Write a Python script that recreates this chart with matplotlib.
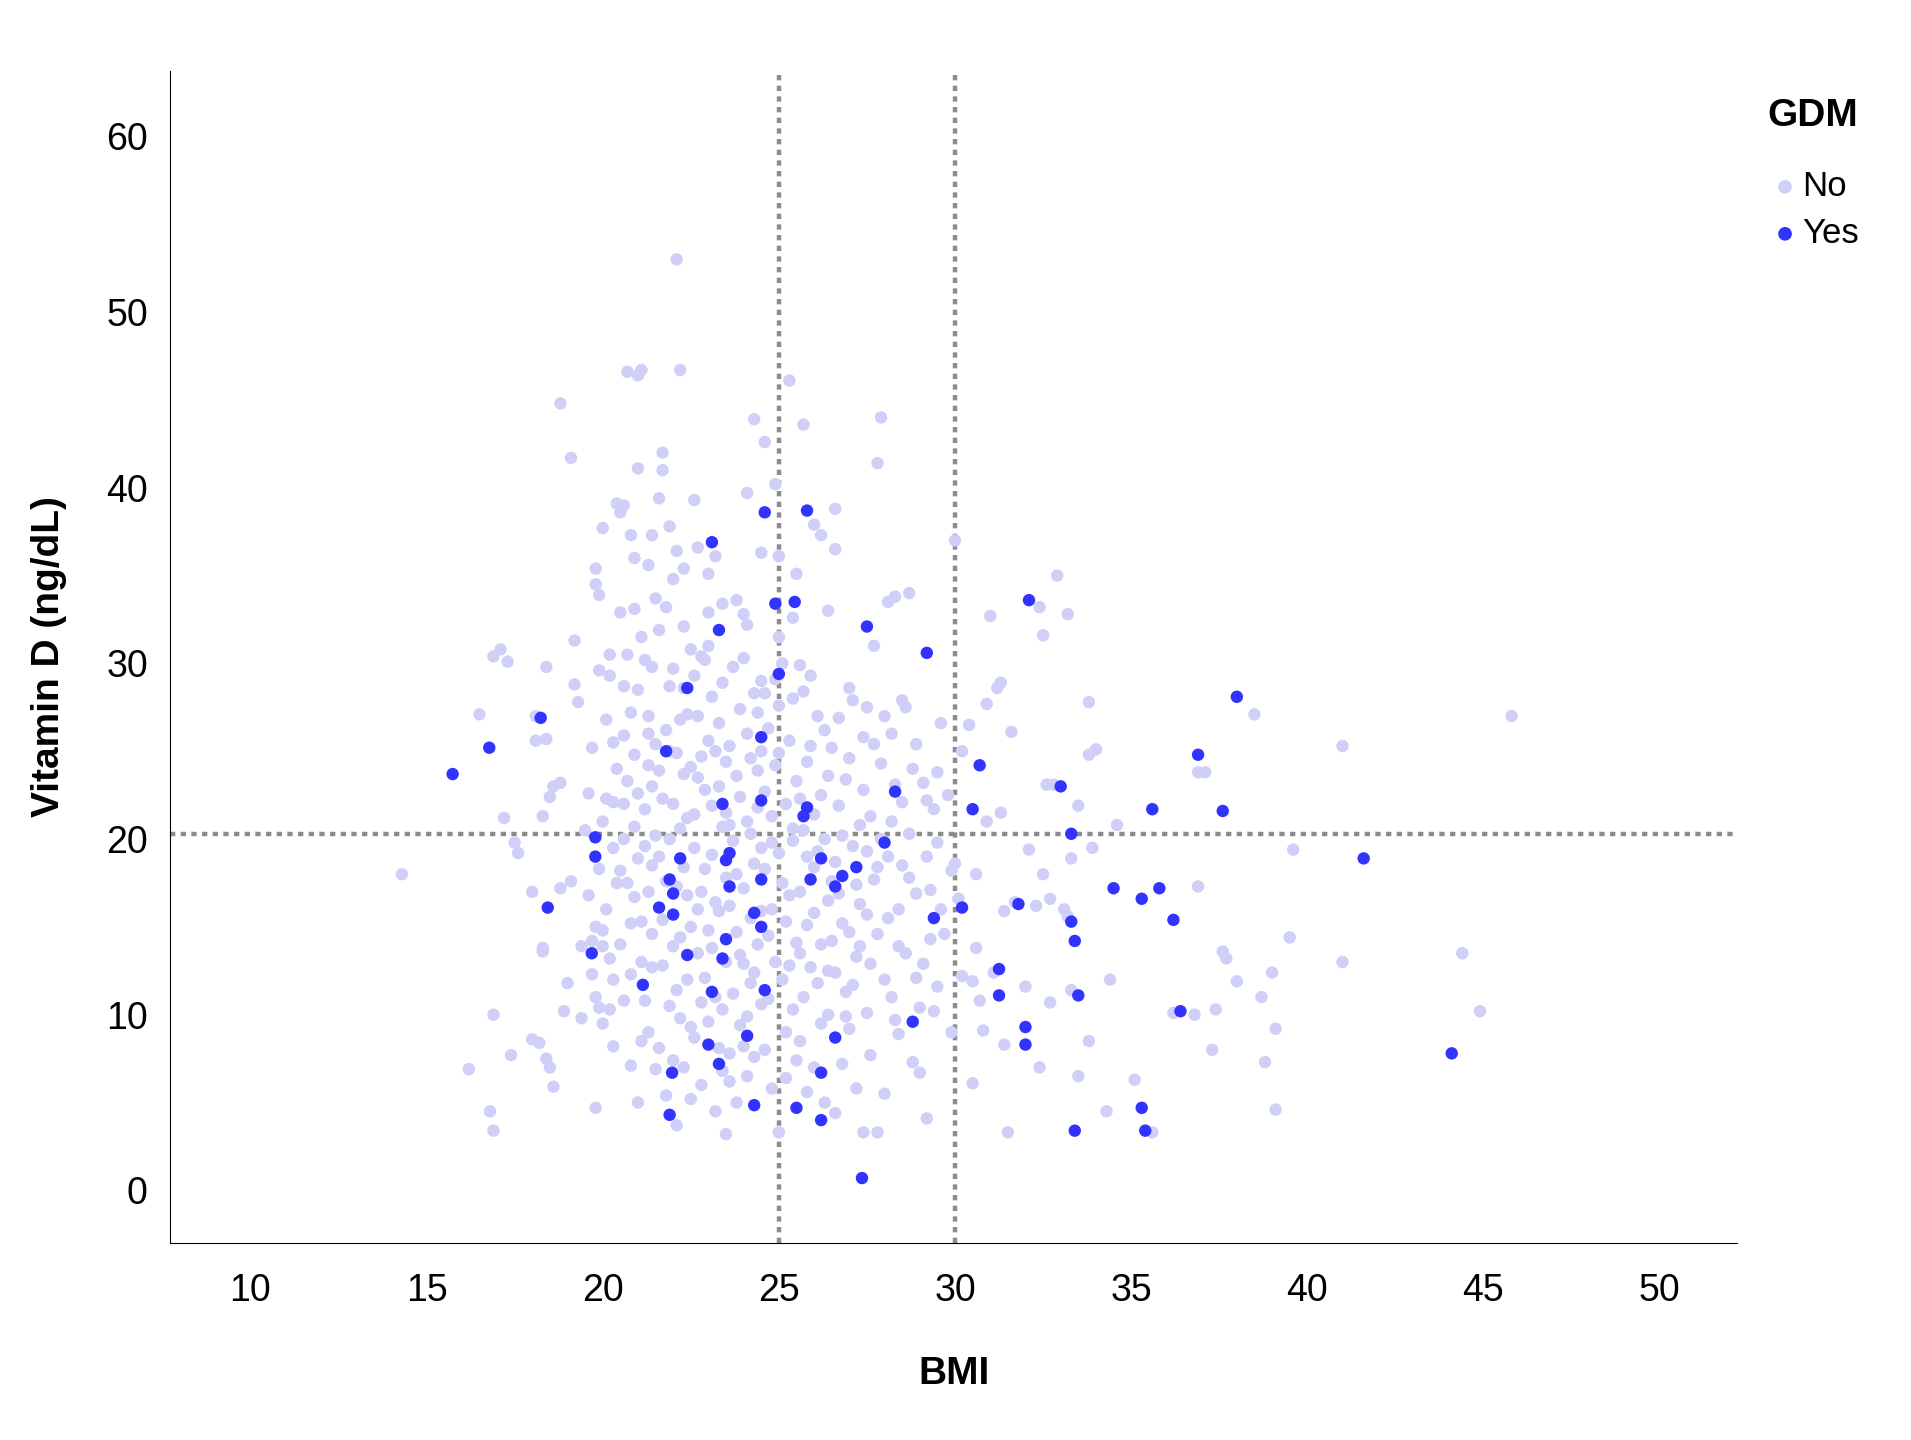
import matplotlib
matplotlib.use("Agg")
import matplotlib.pyplot as plt

yes_points = [(15.74,23.7),(16.78,25.2),(18.24,26.9),(18.44,16.1),(19.79,20.1),(19.79,19.0),(19.69,13.5),
(21.14,11.7),(21.8,25.0),(21.6,16.1),(21.9,17.7),(22.0,16.9),(22.0,15.7),(22.2,18.9),(21.97,6.7),(21.9,4.3),
(22.4,28.6),(22.4,13.4),(23.1,36.9),(23.3,31.9),(23.4,22.0),(23.5,14.3),(23.4,13.2),(23.6,19.2),(23.5,18.8),
(23.6,17.3),(23.1,11.3),(23.0,8.3),(23.3,7.2),(24.1,8.8),(24.3,4.85),(24.3,15.8),(24.5,15.0),(24.5,22.2),
(24.5,17.7),(24.5,25.8),(24.6,38.6),(24.6,11.4),(24.9,33.4),(25.0,29.4),(25.45,33.5),(25.7,21.3),(25.8,21.8),
(25.8,38.7),(25.9,17.7),(25.5,4.7),(26.2,18.9),(26.2,6.7),(26.2,4.0),(26.6,17.3),(26.8,17.9),(26.6,8.7),
(27.2,18.4),(27.5,32.1),(27.36,0.7),(28.0,19.8),(28.3,22.7),(28.8,9.6),(29.2,30.6),(29.4,15.5),(30.2,16.1),
(30.7,24.2),(30.5,21.7),(31.25,12.6),(31.25,11.1),(31.8,16.3),(32.1,33.6),(32.0,9.3),(32.0,8.3),(33.0,23.0),
(33.3,20.3),(33.3,15.3),(33.4,14.2),(33.5,11.1),(33.4,3.4),(34.5,17.2),(35.6,21.7),(35.3,16.6),(35.8,17.2),
(35.3,4.7),(35.4,3.4),(36.2,15.4),(36.4,10.2),(36.9,24.8),(37.6,21.6),(38.0,28.1),(41.6,18.9),(44.1,7.8)]

no_points = [(14.3,18.0),(16.2,6.9),(16.5,27.1),(16.8,4.5),(16.9,3.4),(16.9,10.0),(16.9,30.4),(17.1,30.8),(17.3,30.1),
(17.2,21.2),(17.4,7.7),(17.5,19.8),(17.6,19.2),(18.0,17.0),(18.0,8.6),(18.1,25.6),(18.1,27.0),(18.2,8.4),(18.3,13.6),
(18.3,13.8),(18.4,29.8),(18.4,7.5),(18.5,7.0),(18.5,22.4),(18.3,21.3),(18.6,5.9),(18.4,25.7),(18.6,23.0),(18.8,23.2),
(18.8,44.8),(18.8,17.2),(18.9,10.2),(19.0,11.8),(19.1,41.7),(19.1,17.6),(19.2,31.3),(19.2,28.8),(19.3,27.8),(19.4,9.8),
(19.4,13.9),(19.5,20.5),(19.6,22.6),(19.7,12.3),(19.8,35.4),(19.8,34.5),(19.9,33.9),(19.8,4.7),(19.9,10.4),(20.0,14.8),
(20.0,37.7),(20.1,22.3),(20.2,30.5),(20.3,8.2),(20.3,25.5),(20.4,39.1),(20.5,38.6),(20.6,39.0),(20.5,32.9),(20.6,28.7),
(20.7,46.6),(20.8,37.3),(20.9,36.0),(21.0,46.4),(21.0,41.1),(21.1,46.7),(21.2,30.2),(21.3,35.6),(21.3,26.0),(21.4,37.3),
(21.5,33.7),(21.6,39.4),(21.7,42.0),(21.7,41.0),(21.9,37.8),(22.0,34.8),(22.1,53.0),(22.2,46.7),(22.1,36.4),(22.3,32.1),
(22.3,35.4),(22.6,39.3),(22.7,36.6),(22.8,30.4),(23.0,35.1),(23.0,32.9),(23.2,36.1),(23.4,33.4),(23.5,3.2),(23.6,6.2),
(23.8,33.6),(24.0,32.8),(24.1,32.2),(24.1,39.7),(24.3,43.9),(24.6,42.6),(24.5,36.3),(24.9,40.2),(25.0,36.1),(25.0,31.5),
(25.3,46.1),(25.4,32.6),(25.5,35.1),(25.6,29.9),(25.7,43.6),(26.0,37.9),(26.2,37.3),(26.4,33.0),(26.6,38.8),(26.6,36.5),
(27.0,28.6),(27.5,27.5),(27.7,31.0),(27.8,41.4),(27.9,44.0),(28.1,33.5),(28.3,33.8),(28.5,27.9),(28.7,34.0),(28.9,25.4),
(29.2,22.2),(29.5,23.8),(29.6,16.0),(30.0,37.0),(30.0,18.6),(30.1,16.6),(30.2,25.0),(30.4,26.5),(30.2,12.2),(30.5,11.9),
(30.6,18.0),(30.6,13.8),(30.7,10.8),(30.5,6.1),(30.8,9.1),(30.9,21.0),(30.9,27.7),(31.0,32.7),(31.1,12.4),(31.2,28.6),
(31.3,28.9),(31.3,21.5),(31.4,15.9),(31.4,8.3),(31.5,3.3),(31.6,26.1),(31.7,16.4),(32.0,11.6),(32.1,19.4),(32.3,16.2),
(32.4,33.2),(32.4,7.0),(32.5,31.6),(32.5,18.0),(32.6,23.1),(32.7,10.7),(32.7,16.6),(32.8,23.1),(32.9,35.0),(33.1,16.0),
(33.2,15.6),(33.2,32.8),(33.3,18.9),(33.3,11.4),(33.5,6.5),(33.5,21.9),(33.8,27.8),(33.8,24.8),(33.9,19.5),(33.8,8.5),
(34.0,25.1),(34.3,4.5),(34.4,12.0),(34.6,20.8),(35.1,6.3),(35.6,3.3),(36.2,10.1),(36.8,10.0),(36.9,23.8),(36.9,17.3),
(37.1,23.8),(37.3,8.0),(37.4,10.3),(37.6,13.6),(37.7,13.2),(38.0,11.9),(38.5,27.1),(38.7,11.0),(38.8,7.3),(39.0,12.4),
(39.1,9.2),(39.1,4.6),(39.5,14.4),(39.6,19.4),(41.0,13.0),(41.0,25.3),(44.4,13.5),(44.9,10.2),(45.8,27.0),
(19.6,16.8),(19.7,14.2),(19.8,11.0),(19.9,18.3),(20.0,21.0),(20.1,16.0),(20.2,13.2),(20.3,19.5),(20.4,24.0),(20.1,26.8),
(20.2,29.3),(19.9,29.6),(20.0,9.5),(20.3,12.0),(20.4,17.5),(19.7,25.2),(20.3,22.1),(20.0,13.9),(20.2,10.3),(19.8,15.0),
(20.5,14.0),(20.6,20.0),(20.7,23.3),(20.8,27.2),(20.9,24.8),(21.0,18.9),(21.1,15.3),(21.2,21.7),(21.3,9.0),(21.4,12.7),
(20.6,10.8),(20.8,7.1),(21.0,5.0),(21.2,19.6),(21.4,23.0),(20.7,30.5),(21.0,28.5),(21.3,27.0),(21.5,25.4),(20.9,16.7),
(21.1,13.0),(21.3,17.0),(20.5,18.2),(20.6,25.9),(21.4,29.8),(20.8,12.3),(21.2,10.8),(21.0,22.6),(20.9,20.7),(21.5,20.2),
(20.7,17.5),(21.1,8.5),(21.4,14.6),(20.6,22.0),(21.3,24.2),(21.1,31.5),(20.9,33.1),(21.5,6.9),(21.4,18.5),(20.8,15.2),
(21.6,19.0),(21.7,22.3),(21.8,26.2),(21.9,10.5),(22.0,13.9),(22.1,17.3),(22.2,20.6),(22.3,23.7),(22.4,27.1),(22.5,30.8),
(21.6,8.1),(21.8,5.4),(22.0,7.4),(22.2,9.8),(22.4,12.0),(21.7,15.4),(21.9,28.7),(22.1,24.9),(22.3,18.4),(22.5,15.0),
(21.6,31.9),(21.8,33.2),(22.0,22.0),(22.2,26.8),(22.4,21.2),(21.7,12.8),(21.9,20.0),(22.1,11.4),(22.3,7.0),(22.5,9.3),
(21.6,23.9),(22.0,29.7),(22.4,16.8),(21.8,17.6),(22.2,14.4),(22.5,24.1),(21.9,25.0),(22.3,28.6),(22.1,3.7),(22.5,5.2),
(22.6,19.5),(22.7,13.5),(22.8,17.0),(22.9,22.8),(23.0,25.6),(23.1,28.1),(23.2,11.0),(23.3,15.9),(23.4,20.7),(23.5,24.4),
(22.6,8.7),(22.8,6.0),(23.0,9.6),(23.2,4.5),(23.4,10.3),(22.7,27.0),(22.9,30.2),(23.1,19.1),(23.3,23.0),(23.5,17.8),
(22.6,21.4),(22.8,24.7),(23.0,14.8),(23.2,16.4),(23.4,28.9),(22.7,16.0),(22.9,12.1),(23.1,21.9),(23.3,26.6),(23.5,13.0),
(22.6,29.3),(23.0,31.0),(23.4,6.8),(22.9,18.3),(23.2,25.0),(22.8,10.7),(23.5,21.5),(23.3,8.1),(22.7,23.5),(23.1,13.8),
(23.6,16.2),(23.7,19.9),(23.8,23.6),(23.9,27.4),(24.0,12.9),(24.1,9.9),(24.2,15.5),(24.3,18.6),(24.4,21.8),(24.5,25.0),
(23.6,7.8),(23.8,5.0),(24.0,8.2),(24.2,11.8),(24.4,14.0),(23.7,29.8),(23.9,22.4),(24.1,26.0),(24.3,28.3),(24.5,19.5),
(23.6,25.3),(23.8,14.7),(24.0,17.2),(24.2,20.3),(24.4,23.9),(23.7,11.2),(23.9,9.4),(24.1,6.5),(24.3,7.6),(24.5,10.6),
(23.6,20.8),(24.0,30.3),(24.4,27.2),(23.8,18.0),(24.2,24.6),(24.5,15.9),(23.9,13.4),(24.1,21.0),(24.3,12.4),(24.5,29.0),
(24.6,18.3),(24.7,14.5),(24.8,21.3),(24.9,24.2),(25.0,27.6),(25.1,12.0),(25.2,9.0),(25.3,16.8),(25.4,19.9),(25.5,23.3),
(24.6,8.0),(24.8,5.8),(25.0,3.3),(25.2,6.4),(25.4,10.3),(24.7,26.3),(24.9,29.1),(25.1,30.0),(25.3,25.6),(25.5,14.1),
(24.6,22.7),(24.8,16.0),(25.0,19.2),(25.2,22.0),(25.4,28.0),(24.7,10.9),(24.9,13.0),(25.1,17.5),(25.3,12.8),(25.5,7.4),
(24.6,28.3),(25.0,24.9),(25.4,20.6),(24.8,19.8),(25.2,15.3),
(25.6,17.0),(25.7,20.5),(25.8,24.4),(25.9,12.7),(26.0,15.8),(26.1,19.3),(26.2,22.5),(26.3,26.2),(26.4,10.0),(26.5,14.2),
(25.6,8.5),(25.8,5.6),(26.0,7.0),(26.2,9.5),(26.4,12.5),(25.7,28.4),(25.9,25.3),(26.1,27.0),(26.3,20.0),(26.5,17.6),
(25.6,22.3),(25.8,15.1),(26.0,18.4),(26.2,14.0),(26.4,23.6),(25.7,11.0),(25.9,29.3),(26.1,11.8),(26.3,5.0),(26.5,25.2),
(25.6,13.5),(26.0,21.4),(26.4,16.5),(25.8,19.0),
(26.6,18.7),(26.7,21.9),(26.8,15.2),(26.9,11.3),(27.0,24.6),(27.1,19.6),(27.2,13.3),(27.3,16.3),(27.4,22.8),(27.5,10.1),
(26.6,4.4),(26.8,7.2),(27.0,9.2),(27.2,5.8),(27.4,3.3),(26.7,26.9),(26.9,23.4),(27.1,27.9),(27.3,20.8),(27.5,15.7),
(26.6,12.4),(26.8,20.2),(27.0,14.7),(27.2,17.4),(27.4,25.8),(26.7,16.9),(27.1,11.7),(27.5,19.3),(26.9,9.9),(27.3,13.9),
(27.6,21.3),(27.7,17.7),(27.8,14.6),(27.9,24.3),(28.0,12.0),(28.1,19.0),(28.2,26.0),(28.3,9.7),(28.4,16.0),(28.5,22.1),
(27.6,7.7),(27.8,3.3),(28.0,5.5),(28.2,11.0),(28.4,13.9),(27.7,25.4),(27.9,20.0),(28.1,15.5),(28.3,23.1),(28.5,18.5),
(27.6,12.9),(28.0,27.0),(28.4,8.9),(27.8,18.4),(28.2,21.0),
(28.6,13.5),(28.7,20.3),(28.8,24.0),(28.9,16.9),(29.0,10.4),(29.1,12.9),(29.2,19.0),(29.3,14.3),(29.4,21.7),(29.5,11.6),
(28.6,27.5),(28.8,7.3),(29.0,6.7),(29.2,4.1),(29.4,10.2),(28.7,17.8),(28.9,12.1),(29.1,23.2),(29.3,17.1),(29.5,19.8),
(29.7,14.6),(29.8,22.5),(29.9,9.0),(29.6,26.6),(29.9,18.2)]

no_bmi = [p[0] for p in no_points]
no_vitd = [p[1] for p in no_points]
yes_bmi = [p[0] for p in yes_points]
yes_vitd = [p[1] for p in yes_points]

bmi_cutoffs = [25, 30]
vitd_cutoff = 20.3
x_ticks = [10, 15, 20, 25, 30, 35, 40, 45, 50]
y_ticks = [0, 10, 20, 30, 40, 50, 60]

plt.rcParams['font.family'] = ['Liberation Sans', 'DejaVu Sans']
fig = plt.figure(figsize=(19.11, 14.4), dpi=100)
ax = fig.add_axes([0.089, 0.137, 0.82, 0.814])

ax.scatter(no_bmi, no_vitd, s=80, color='#cfcff7', edgecolors='none', label='No', zorder=2)
ax.scatter(yes_bmi, yes_vitd, s=80, color='#3333ff', edgecolors='none', label='Yes', zorder=3)

for c in bmi_cutoffs:
    ax.axvline(c, color='#8c8c8c', ls=(0, (1.2, 1.2)), lw=3.2, zorder=1)
ax.axhline(vitd_cutoff, color='#8c8c8c', ls=(0, (1.2, 1.2)), lw=3.2, zorder=1)

ax.set_xlim(7.72, 52.2)
ax.set_ylim(-2.98, 63.75)
ax.set_xticks(x_ticks)
ax.set_yticks(y_ticks)
ax.tick_params(axis='both', length=0, labelsize=27)
ax.tick_params(axis='x', pad=22)
ax.tick_params(axis='y', pad=16)
for s in ['top', 'right']:
    ax.spines[s].set_visible(False)
ax.set_xlabel('BMI', fontsize=28, fontweight='bold', labelpad=34)
ax.set_ylabel('Vitamin D (ng/dL)', fontsize=28, fontweight='bold', labelpad=28)

leg = fig.legend(loc='upper left', bbox_to_anchor=(0.925, 0.932), frameon=False, title='GDM',
                 fontsize=25, title_fontsize=28, handletextpad=0.0, markerscale=1.1,
                 handlelength=1.0, labelspacing=0.4, borderaxespad=0, borderpad=0)
leg.get_title().set_fontweight('bold')
leg._legend_box.align = 'left'
leg._legend_box.sep = 26

fig.savefig('out.png', dpi=100)
